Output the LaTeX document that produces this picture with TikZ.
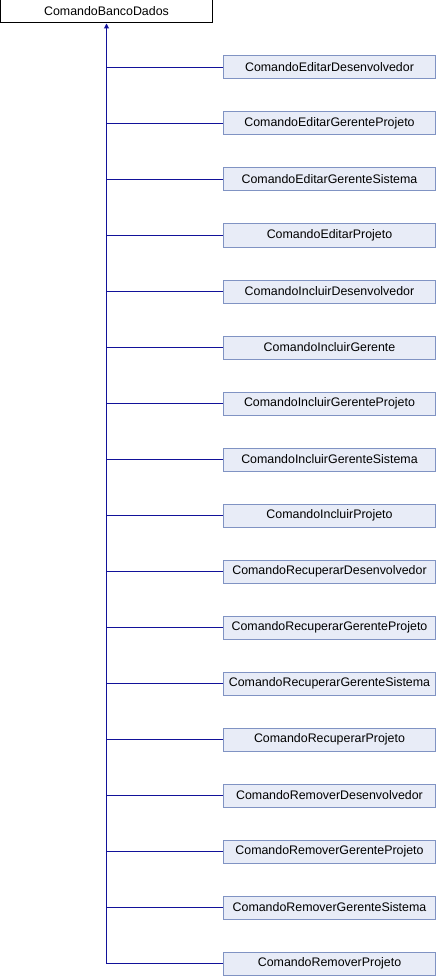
\documentclass[tikz,border=0pt]{standalone}
\usepackage{fontspec}
\setmainfont{Liberation Sans}
\usetikzlibrary{arrows.meta}
\definecolor{edgeblue}{HTML}{12129A}
\definecolor{boxfill}{HTML}{E8ECF7}
\definecolor{boxline}{HTML}{8093C3}
\begin{document}
\begin{tikzpicture}[x=1pt,y=-1pt,
  base/.style={draw=black,fill=white,line width=1pt,minimum width=212pt,minimum height=23pt,inner sep=0pt,font=\fontsize{12.4}{14}\selectfont},
  child/.style={draw=boxline,fill=boxfill,line width=1pt,minimum width=212pt,minimum height=23pt,inner sep=0pt,font=\fontsize{12.4}{14}\selectfont},
  edge/.style={draw=edgeblue,line width=1pt}]
\useasboundingbox (0,0) rectangle (436,976);
\node[base] (root) at (106.5,11.5) {ComandoBancoDados};
\foreach \name [count=\i from 0] in {ComandoEditarDesenvolvedor,ComandoEditarGerenteProjeto,ComandoEditarGerenteSistema,ComandoEditarProjeto,ComandoIncluirDesenvolvedor,ComandoIncluirGerente,ComandoIncluirGerenteProjeto,ComandoIncluirGerenteSistema,ComandoIncluirProjeto,ComandoRecuperarDesenvolvedor,ComandoRecuperarGerenteProjeto,ComandoRecuperarGerenteSistema,ComandoRecuperarProjeto,ComandoRemoverDesenvolvedor,ComandoRemoverGerenteProjeto,ComandoRemoverGerenteSistema,ComandoRemoverProjeto}{
  \node[child] (c\i) at (329.5,67.5+56*\i) {\name};
  \coordinate (j\i) at (106.5,67.5+56*\i);
  \draw[edge] (j\i) -- (c\i.west);
}
\draw[edge,-{Triangle[length=5pt,width=5pt]}] (j16) -- (root.south);
\end{tikzpicture}
\end{document}
